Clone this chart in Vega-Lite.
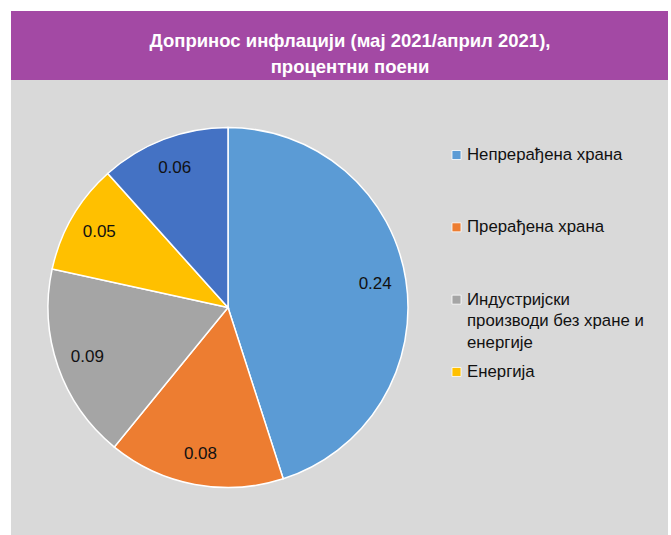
{
  "$schema": "https://vega.github.io/schema/vega-lite/v6.json",
  "background": "white",
  "padding": {"left": 11, "top": 11, "right": 3, "bottom": 0},
  "config": {"view": {"stroke": null}, "concat": {"spacing": 0}, "font": "Liberation Sans"},
  "datasets": {
    "header": [{"title": "Допринос инфлацији (мај 2021/април 2021),\nпроцентни поени"}],
    "slices": [
      {"category": "Непрерађена храна", "value": 0.236, "rank": 1},
      {"category": "Прерађена храна", "value": 0.083, "rank": 2},
      {"category": "Индустријски\nпроизводи без хране и\nенергије", "value": 0.092, "rank": 3},
      {"category": "Енергија", "value": 0.052, "rank": 4},
      {"category": "Услуге", "value": 0.061, "rank": 5}
    ]
  },
  "spacing": 0,
  "vconcat": [
    {
      "data": {"name": "header"},
      "width": 657,
      "height": 69,
      "view": {"fill": "#A349A4", "stroke": null},
      "mark": {"type": "text", "color": "white", "fontWeight": "bold", "fontSize": 18.5, "lineBreak": "\n", "lineHeight": 26, "baseline": "middle", "align": "center", "dx": 10.5, "dy": -4.5},
      "encoding": {"text": {"field": "title", "type": "nominal"}}
    },
    {
      "spacing": 0,
      "hconcat": [
        {
          "data": {"name": "slices"},
          "width": 434,
          "height": 455,
          "view": {"fill": "#D9D9D9", "stroke": null},
          "encoding": {
            "theta": {"field": "value", "type": "quantitative", "stack": true},
            "order": {"field": "rank", "type": "quantitative"}
          },
          "layer": [
            {
              "mark": {"type": "arc", "outerRadius": 180, "stroke": "white", "strokeWidth": 1.5},
              "encoding": {
                "color": {
                  "field": "category", "type": "nominal",
                  "scale": {
                    "domain": ["Непрерађена храна", "Прерађена храна", "Индустријски\nпроизводи без хране и\nенергије", "Енергија", "Услуге"],
                    "range": ["#5B9BD5", "#ED7D31", "#A5A5A5", "#FFC000", "#4472C4"]
                  },
                  "legend": null
                }
              }
            },
            {
              "mark": {"type": "text", "radius": 149, "fontSize": 17, "color": "#111111"},
              "encoding": {"text": {"field": "value", "type": "quantitative", "format": ".2f"}}
            }
          ]
        },
        {
          "data": {"name": "slices"},
          "transform": [{"filter": "datum.rank <= 4"}],
          "width": 223,
          "height": 455,
          "view": {"fill": "#D9D9D9", "stroke": null},
          "encoding": {
            "x": {"datum": 0, "type": "quantitative", "scale": {"domain": [0, 1], "padding": 11.5, "nice": false, "zero": false}, "axis": null},
            "y": {"field": "rank", "type": "quantitative", "scale": {"domain": [-0.037, 6.254], "reverse": true, "nice": false, "zero": false}, "axis": null}
          },
          "layer": [
            {
              "mark": {"type": "point", "shape": "square", "filled": true, "size": 81, "opacity": 1, "stroke": "white", "strokeWidth": 0.8},
              "encoding": {
                "color": {
                  "field": "category", "type": "nominal",
                  "scale": {
                    "domain": ["Непрерађена храна", "Прерађена храна", "Индустријски\nпроизводи без хране и\nенергије", "Енергија", "Услуге"],
                    "range": ["#5B9BD5", "#ED7D31", "#A5A5A5", "#FFC000", "#4472C4"]
                  },
                  "legend": null
                }
              }
            },
            {
              "mark": {"type": "text", "align": "left", "baseline": "middle", "dx": 10.5, "fontSize": 16.8, "lineBreak": "\n", "lineHeight": 21.5, "color": "#111111"},
              "encoding": {"text": {"field": "category", "type": "nominal"}}
            }
          ]
        }
      ]
    }
  ]
}
